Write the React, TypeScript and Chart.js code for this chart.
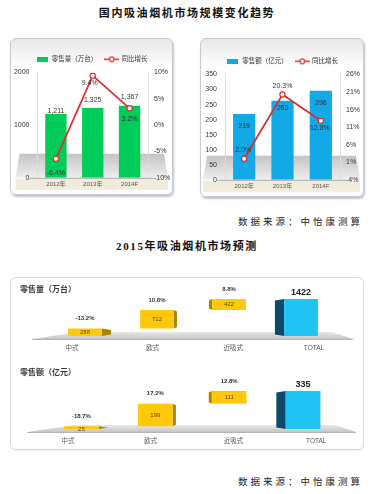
import React, { useEffect, useRef } from 'react';
import { Chart, registerables } from 'chart.js';
Chart.register(...registerables);

// ---------- data ----------
const years = ['2012年', '2013年', '2014F'];
const salesVolume = [1211, 1325, 1367];
const volumeGrowth = [-6.4, 9.4, 3.2];
const salesValue = [219, 263, 296];
const valueGrowth = [2.0, 20.3, 12.8];

const segments = ['中式', '欧式', '近吸式', 'TOTAL'];
const forecastVolume = [288, 712, 422];
const forecastVolumeTotal = 1422;
const forecastVolumeGrowth = [-13.2, 10.8, 8.8];
const forecastValue = [25, 199, 111];
const forecastValueTotal = 335;
const forecastValueGrowth = [-18.7, 17.2, 12.8];

const FONT = '"Liberation Sans", "Noto Sans CJK SC", sans-serif';
const RED = '#d8312e';

function legendIcon(kind: 'bar' | 'line', color: string) {
  const c = document.createElement('canvas');
  if (kind === 'bar') {
    c.width = 11; c.height = 5;
    const g = c.getContext('2d')!;
    g.fillStyle = color; g.fillRect(0, 0, 11, 5);
  } else {
    c.width = 15; c.height = 7;
    const g = c.getContext('2d')!;
    g.strokeStyle = color; g.lineWidth = 1.5;
    g.beginPath(); g.moveTo(0, 3.5); g.lineTo(15, 3.5); g.stroke();
    g.beginPath(); g.arc(7.5, 3.5, 2.3, 0, Math.PI * 2);
    g.fillStyle = '#fff'; g.fill(); g.lineWidth = 1.2; g.stroke();
  }
  return c;
}

type TopProps = {
  left: number; top: number; width: number; height: number;
  bars: number[]; growth: number[]; barLabel: string; color: string;
  yMax: number; yStep: number; y1Min: number; y1Max: number; y1Step: number;
  leftW: number; rightW: number; padTop: number; padBottom: number;
  barFmt: (v: number) => string;
  barLabelDy: number[]; growthLabelDx: number[]; growthLabelDy: number[];
};

function TopChart(p: TopProps) {
  const ref = useRef<HTMLCanvasElement>(null);
  useEffect(() => {
    const floor = {
      id: 'floor',
      beforeDraw(chart: any) {
        const { ctx, chartArea: a } = chart;
        ctx.save();
        const ft = a.bottom - 24;
        const g = ctx.createLinearGradient(0, ft, 0, a.bottom);
        g.addColorStop(0, '#c4c4c4');
        g.addColorStop(1, '#eeeeee');
        ctx.fillStyle = g;
        ctx.beginPath();
        ctx.moveTo(a.left - 18, ft);
        ctx.lineTo(a.right + 16, ft);
        ctx.lineTo(a.right + 20, a.bottom);
        ctx.lineTo(a.left - 22, a.bottom);
        ctx.closePath();
        ctx.fill();
        ctx.fillStyle = '#f0ebda';
        ctx.fillRect(a.left - 22, a.bottom + 1, a.width + 42, 11);
        ctx.strokeStyle = '#a8a8a8';
        ctx.lineWidth = 1;
        ctx.beginPath();
        ctx.moveTo(a.left - 8, a.bottom + 0.5);
        ctx.lineTo(a.right + 6, a.bottom + 0.5);
        ctx.stroke();
        ctx.restore();
      },
      afterDatasetsDraw(chart: any) {
        const { ctx } = chart;
        ctx.save();
        ctx.font = `7px ${FONT}`;
        ctx.fillStyle = '#333';
        ctx.textAlign = 'center';
        ctx.textBaseline = 'middle';
        const barMeta = chart.getDatasetMeta(1);
        barMeta.data.forEach((el: any, i: number) => {
          ctx.fillText(p.barFmt(p.bars[i]), el.x, el.y + p.barLabelDy[i]);
        });
        const lineMeta = chart.getDatasetMeta(0);
        lineMeta.data.forEach((el: any, i: number) => {
          ctx.fillText(p.growth[i].toFixed(1) + '%', el.x + p.growthLabelDx[i], el.y + p.growthLabelDy[i]);
        });
        ctx.restore();
      },
    };
    const barIcon = legendIcon('bar', p.color);
    const lineIcon = legendIcon('line', RED);
    const chart = new Chart(ref.current!, {
      type: 'bar',
      data: {
        labels: years,
        datasets: [
          {
            type: 'line', label: '同比增长', data: p.growth, yAxisID: 'y1',
            borderColor: RED, borderWidth: 1.8, pointRadius: 2.6, pointBorderWidth: 1.2,
            pointBackgroundColor: '#fff', pointBorderColor: RED, order: 0,
          } as any,
          {
            type: 'bar', label: p.barLabel, data: p.bars, yAxisID: 'y',
            backgroundColor: p.color, barPercentage: 0.58, categoryPercentage: 1, order: 1,
          } as any,
        ],
      },
      options: {
        responsive: false,
        animation: false,
        layout: { padding: { top: p.padTop, bottom: p.padBottom, left: 0, right: 0 } },
        plugins: {
          tooltip: { enabled: false },
          legend: {
            position: 'top',
            labels: {
              usePointStyle: true,
              pointStyleWidth: 13,
              boxHeight: 6,
              padding: 8,
              color: '#333',
              font: { size: 6.5, family: FONT },
              generateLabels: () => [
                { text: p.barLabel, pointStyle: barIcon, fillStyle: p.color, strokeStyle: p.color, lineWidth: 0, hidden: false, datasetIndex: 1, fontColor: '#333' },
                { text: '同比增长', pointStyle: lineIcon, fillStyle: RED, strokeStyle: RED, lineWidth: 0, hidden: false, datasetIndex: 0, fontColor: '#333' },
              ] as any,
            },
          },
        },
        scales: {
          x: {
            grid: { display: false, drawTicks: false },
            border: { display: false },
            ticks: { font: { size: 6, family: FONT }, color: '#555', padding: 3 },
          },
          y: {
            position: 'left', min: 0, max: p.yMax,
            ticks: { stepSize: p.yStep, font: { size: 7, family: FONT }, color: '#333', padding: 8, callback: (v: any) => String(v) },
            grid: { display: false, drawTicks: false },
            border: { color: '#dcdcdc' },
            afterFit: (s: any) => { s.width = p.leftW; },
          },
          y1: {
            position: 'right', min: p.y1Min, max: p.y1Max,
            ticks: { stepSize: p.y1Step, font: { size: 7, family: FONT }, color: '#333', padding: 6, callback: (v: any) => v + '%' },
            grid: { display: false, drawTicks: false },
            border: { color: '#dcdcdc' },
            afterFit: (s: any) => { s.width = p.rightW; },
          },
        },
      },
      plugins: [floor],
    } as any);
    return () => chart.destroy();
  }, []);
  return (
    <canvas
      ref={ref}
      width={p.width}
      height={p.height}
      style={{ position: 'absolute', left: p.left, top: p.top, width: p.width, height: p.height }}
    />
  );
}

type WfProps = {
  left: number; top: number; width: number; height: number;
  title: string; values: number[]; total: number; growth: number[]; yMax: number;
  padLeft: number; padRight: number; padTop: number; padBottom: number;
};

function Waterfall(p: WfProps) {
  const ref = useRef<HTMLCanvasElement>(null);
  useEffect(() => {
    const ranges: number[][] = [];
    let acc = 0;
    p.values.forEach((v) => { ranges.push([acc, acc + v]); acc += v; });
    ranges.push([0, p.total]);
    const vp = 183; // perspective centre
    const wf = {
      id: 'wf',
      beforeDraw(chart: any) {
        const { ctx, chartArea: a } = chart;
        const base = chart.scales.y.getPixelForValue(0);
        ctx.save();
        ctx.font = `bold 8px ${FONT}`;
        ctx.fillStyle = '#3a3a3a';
        ctx.textBaseline = 'middle';
        ctx.fillText(p.title, 10, 13);
        const g = ctx.createLinearGradient(0, base - 4, 0, base + 3);
        g.addColorStop(0, '#e8e8e8');
        g.addColorStop(1, '#c6c6c6');
        ctx.fillStyle = g;
        ctx.beginPath();
        ctx.moveTo(a.left - 17, base + 3);
        ctx.lineTo(a.left + 30, base - 4);
        ctx.lineTo(a.right - 5, base - 4);
        ctx.lineTo(a.right + 16, base + 3);
        ctx.closePath();
        ctx.fill();
        ctx.strokeStyle = '#b4b4b4';
        ctx.lineWidth = 1;
        ctx.beginPath();
        ctx.moveTo(a.left - 17, base + 3.5);
        ctx.lineTo(a.right + 16, base + 3.5);
        ctx.stroke();
        ctx.restore();
      },
      beforeDatasetsDraw(chart: any) {
        const { ctx } = chart;
        const meta = chart.getDatasetMeta(0);
        ctx.save();
        meta.data.forEach((el: any, i: number) => {
          const { x, y, base, width } = el.getProps(['x', 'y', 'base', 'width'], true);
          const top = Math.min(y, base);
          const bot = Math.max(y, base);
          const w = (vp - x) * 0.085;
          const edge = w > 0 ? x + width / 2 : x - width / 2;
          const isTotal = i === meta.data.length - 1;
          ctx.fillStyle = isTotal ? '#0c4a68' : '#a88500';
          ctx.beginPath();
          ctx.moveTo(edge, top);
          ctx.lineTo(edge + w, top + 1.5);
          ctx.lineTo(edge + w, bot - 1.5);
          ctx.lineTo(edge, bot);
          ctx.closePath();
          ctx.fill();
        });
        ctx.restore();
      },
      afterDatasetsDraw(chart: any) {
        const { ctx } = chart;
        const meta = chart.getDatasetMeta(0);
        const base = chart.scales.y.getPixelForValue(0);
        ctx.save();
        ctx.textAlign = 'center';
        meta.data.forEach((el: any, i: number) => {
          const { x, y, base: b } = el.getProps(['x', 'y', 'base'], true);
          const top = Math.min(y, b);
          const isTotal = i === meta.data.length - 1;
          if (isTotal) {
            ctx.font = `bold 9px ${FONT}`;
            ctx.fillStyle = '#222';
            ctx.textBaseline = 'bottom';
            ctx.fillText(String(p.total), x, top - 2);
          } else {
            ctx.font = `6px ${FONT}`;
            ctx.fillStyle = '#5e4b00';
            ctx.textBaseline = 'middle';
            ctx.fillText(String(p.values[i]), x, (y + b) / 2 + (Math.abs(y - b) < 6 ? 2 : 0));
            ctx.font = `bold 6px ${FONT}`;
            ctx.fillStyle = '#333';
            ctx.textBaseline = 'bottom';
            ctx.fillText(p.growth[i].toFixed(1) + '%', x, top - 7);
          }
          ctx.font = `6.5px ${FONT}`;
          ctx.fillStyle = '#555';
          ctx.textBaseline = 'middle';
          const lx = x + (x - vp) * 0.12;
          ctx.fillText(segments[i], lx, base + 12);
        });
        ctx.restore();
      },
    };
    const Y = '#ffc80a';
    const C = '#1fc4f5';
    const chart = new Chart(ref.current!, {
      type: 'bar',
      data: {
        labels: segments,
        datasets: [{
          data: ranges as any,
          backgroundColor: [Y, Y, Y, C],
          borderWidth: 0,
          barPercentage: 0.47,
          categoryPercentage: 1,
        }],
      },
      options: {
        responsive: false,
        animation: false,
        layout: { padding: { left: p.padLeft, right: p.padRight, top: p.padTop, bottom: p.padBottom } },
        plugins: { legend: { display: false }, tooltip: { enabled: false } },
        scales: {
          x: { display: false },
          y: { display: false, min: 0, max: p.yMax },
        },
      },
      plugins: [wf],
    } as any);
    return () => chart.destroy();
  }, []);
  return (
    <canvas
      ref={ref}
      width={p.width}
      height={p.height}
      style={{ position: 'absolute', left: p.left, top: p.top, width: p.width, height: p.height }}
    />
  );
}

const titleStyle: React.CSSProperties = {
  position: 'absolute', left: 0, width: 374, height: 14, lineHeight: '14px',
  textAlign: 'center', fontFamily: '"Liberation Serif", "Noto Sans CJK SC", serif',
  fontWeight: 700, fontSize: 11, letterSpacing: 1.6, color: '#111', whiteSpace: 'nowrap',
};
const sourceStyle: React.CSSProperties = {
  position: 'absolute', left: 238, height: 14, lineHeight: '14px',
  fontFamily: '"Noto Sans CJK SC", serif', fontSize: 9.5, letterSpacing: 3,
  color: '#222', whiteSpace: 'nowrap',
};
const panelStyle: React.CSSProperties = {
  position: 'absolute', boxSizing: 'border-box', border: '1px solid #c6cad2', borderRadius: 6,
  background: 'linear-gradient(#e6e6e6 0px, #ffffff 28px, #ffffff 100%)',
  boxShadow: '1px 2px 2px rgba(110,120,140,0.45)',
};

export default function App() {
  return (
    <div style={{ position: 'absolute', left: 0, top: 0, width: 386, height: 494, background: '#fff', overflow: 'hidden' }}>
      <div style={{ ...titleStyle, top: 5.5 }}>国内吸油烟机市场规模变化趋势</div>
      <div style={{ ...panelStyle, left: 10, top: 38, width: 163, height: 157 }} />
      <div style={{ ...panelStyle, left: 200, top: 38, width: 164, height: 159 }} />
      <TopChart
        left={10} top={38} width={163} height={157}
        bars={salesVolume} growth={volumeGrowth} barLabel="零售量（万台）" color="#00cc5a"
        yMax={2000} yStep={1000} y1Min={-10} y1Max={10} y1Step={5}
        leftW={27.5} rightW={25} padTop={10} padBottom={4}
        barFmt={(v) => v.toLocaleString('en-US')}
        barLabelDy={[-3, -8, -9]} growthLabelDx={[0, -3, 0]} growthLabelDy={[14, 7, 11]}
      />
      <TopChart
        left={200} top={38} width={164} height={159}
        bars={salesValue} growth={valueGrowth} barLabel="零售额（亿元）" color="#12a9e6"
        yMax={350} yStep={50} y1Min={-4} y1Max={26} y1Step={5}
        leftW={25} rightW={24} padTop={12} padBottom={4}
        barFmt={(v) => String(v)}
        barLabelDy={[12, 7, 12.5]} growthLabelDx={[-1, 0, -1]} growthLabelDy={[-9, -8, 7]}
      />
      <div style={{ ...sourceStyle, top: 213.5 }}>数据来源：中怡康测算</div>
      <div style={{ ...titleStyle, top: 239 }}>2015年吸油烟机市场预测</div>
      <div style={{
        position: 'absolute', boxSizing: 'border-box', left: 10, top: 277, width: 354, height: 173,
        border: '1px solid #d8d8d8', borderRadius: 6, boxShadow: '0 1px 1px rgba(0,0,0,0.08)',
      }} />
      <Waterfall
        left={10} top={277} width={354} height={83}
        title="零售量（万台）" values={forecastVolume} total={forecastVolumeTotal}
        growth={forecastVolumeGrowth} yMax={2075}
        padLeft={39} padRight={27} padTop={5} padBottom={24}
      />
      <Waterfall
        left={10} top={360} width={354} height={90}
        title="零售额（亿元）" values={forecastValue} total={forecastValueTotal}
        growth={forecastValueGrowth} yMax={565}
        padLeft={34.5} padRight={24} padTop={5} padBottom={21}
      />
      <div style={{ ...sourceStyle, top: 473.5 }}>数据来源：中怡康测算</div>
    </div>
  );
}
